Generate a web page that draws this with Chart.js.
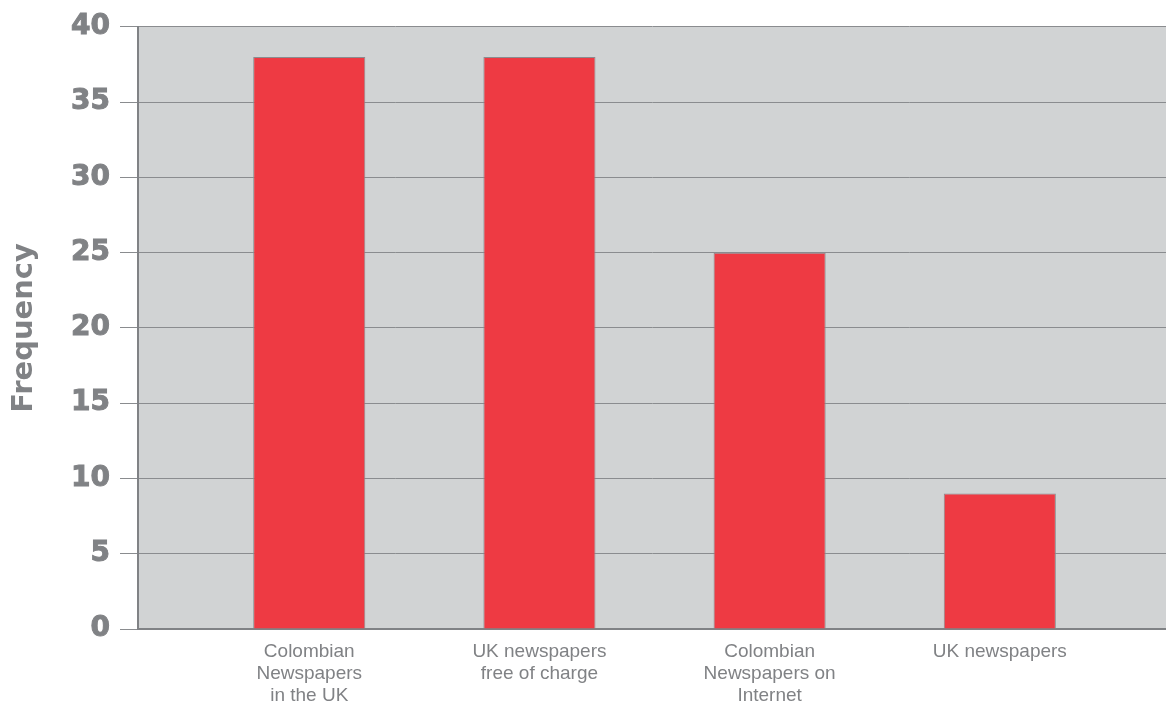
<!DOCTYPE html>
<html>
<head>
<meta charset="utf-8">
<script src="https://cdn.jsdelivr.net/npm/chart.js@4/dist/chart.umd.min.js"></script>
<style>
  html, body { margin: 0; padding: 0; background: #ffffff; }
  #wrap { width: 1166px; height: 708px; position: relative; }
</style>
</head>
<body>
<div id="wrap"><canvas id="barChart"></canvas></div>
<script>
/******************* Data ***********************/
const categories = [
    ['Colombian', 'Newspapers', 'in the UK'],
    ['UK newspapers', 'free of charge'],
    ['Colombian', 'Newspapers on', 'Internet'],
    ['UK newspapers']
];
const frequency = [38, 38, 25, 9];
const yTicks = [0, 5, 10, 15, 20, 25, 30, 35, 40];

// colours
const PLOT_BG = '#d1d3d4';
const BAR_RED = '#ee3a43';
const GREY_TEXT = '#808285';
const GRID_GREY = '#8a8c8f';

// grey plot background behind the bars
const plotBackground = {
    id: 'plotBackground',
    beforeDraw(chart) {
        const {ctx, chartArea} = chart;
        ctx.save();
        ctx.fillStyle = PLOT_BG;
        ctx.fillRect(chartArea.left, chartArea.top, chartArea.right - chartArea.left, chartArea.bottom - chartArea.top);
        ctx.restore();
    }
};

const data = {
    datasets: [
        {
            label: 'Frequency',
            data: frequency.map((v, i) => ({x: i, y: v})),
            backgroundColor: BAR_RED,
            borderColor: GRID_GREY,
            borderWidth: 1,
            barPercentage: 0.487,
            categoryPercentage: 1
        }
    ]
};

const config = {
    type: 'bar',
    data: data,
    options: {
        responsive: true,
        maintainAspectRatio: false,
        animation: false,
        layout: {
            padding: {top: 23, right: 0, bottom: 0, left: 0}
        },
        plugins: {
            legend: { display: false },
            tooltip: { enabled: false }
        },
        scales: {
            x: {
                type: 'linear',
                offset: false,
                min: -0.744,
                max: 3.722,
                afterBuildTicks: (scale) => {
                    scale.ticks = categories.map((_, i) => ({value: i}));
                },
                afterFit: (scale) => { scale.height = 79; },
                grid: { display: false },
                border: { display: true, color: GREY_TEXT, width: 2 },
                ticks: {
                    autoSkip: false,
                    maxRotation: 0,
                    padding: 4,
                    color: GREY_TEXT,
                    font: { family: '"Liberation Sans", Arial, sans-serif', size: 19, lineHeight: 1.15 },
                    callback: (value) => categories[value] || ''
                }
            },
            y: {
                min: 0,
                max: 40,
                afterBuildTicks: (scale) => {
                    scale.ticks = yTicks.map(v => ({value: v}));
                },
                afterFit: (scale) => { scale.width = 138; },
                grid: {
                    color: GRID_GREY,
                    lineWidth: 1,
                    drawTicks: true,
                    tickLength: 18
                },
                border: { display: true, color: GREY_TEXT, width: 2 },
                ticks: {
                    padding: 10,
                    color: GREY_TEXT,
                    textStrokeColor: GREY_TEXT,
                    textStrokeWidth: 1,
                    font: { family: '"DejaVu Sans", sans-serif', size: 28, weight: 'bold' }
                },
                title: {
                    display: true,
                    text: 'Frequency',
                    color: GREY_TEXT,
                    padding: { top: 7, bottom: 0 },
                    font: { family: '"DejaVu Sans", sans-serif', size: 29, weight: 'bold' }
                }
            }
        }
    },
    plugins: [plotBackground]
};

const myBarChart = new Chart(
    document.getElementById('barChart'),
    config
);
</script>
</body>
</html>
